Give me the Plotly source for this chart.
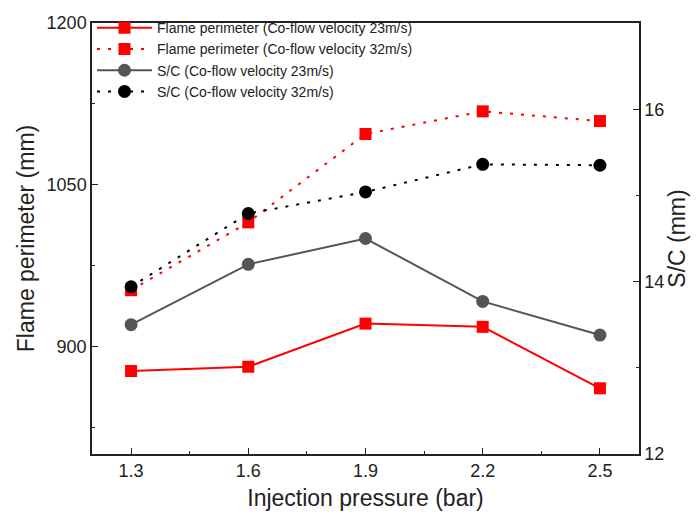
import plotly.graph_objects as go

pressure = [1.3, 1.6, 1.9, 2.2, 2.5]
perim_23 = [877, 881, 921, 918, 861]
perim_32 = [952, 1015, 1097, 1118, 1109]
sc_23 = [13.50, 14.20, 14.50, 13.77, 13.38]
sc_32 = [13.94, 14.79, 15.04, 15.36, 15.35]

names = [
    "Flame perimeter (Co-flow velocity 23m/s)",
    "Flame perimeter (Co-flow velocity 32m/s)",
    "S/C (Co-flow velocity 23m/s)",
    "S/C (Co-flow velocity 32m/s)",
]

RED = "#ff0000"
GRAY = "#555555"
BLACK = "#000000"
FONT = "Liberation Sans, Arial, sans-serif"

fig = go.Figure()
fig.add_trace(go.Scatter(x=pressure, y=perim_23, name=names[0], mode="lines+markers",
                         line=dict(color=RED, width=2), marker=dict(symbol="square", size=12, color=RED),
                         legendgroup="a", yaxis="y"))
fig.add_trace(go.Scatter(x=pressure, y=perim_32, name=names[1], mode="lines+markers",
                         line=dict(color=RED, width=2, dash="3px,8px"), marker=dict(symbol="square", size=12, color=RED),
                         legendgroup="a", yaxis="y"))
fig.add_trace(go.Scatter(x=pressure, y=sc_23, name=names[2], mode="lines+markers",
                         line=dict(color=GRAY, width=2), marker=dict(symbol="circle", size=13, color=GRAY),
                         legendgroup="b", yaxis="y2"))
fig.add_trace(go.Scatter(x=pressure, y=sc_32, name=names[3], mode="lines+markers",
                         line=dict(color=BLACK, width=2, dash="3px,8px"), marker=dict(symbol="circle", size=13, color=BLACK),
                         legendgroup="b", yaxis="y2"))

axis_common = dict(showline=True, linecolor="#222222", linewidth=1.5, showgrid=False, zeroline=False,
                   ticks="inside", ticklen=6, tickwidth=1.2, tickcolor="#222222",
                   tickfont=dict(family=FONT, size=18, color="#222222"))

fig.update_layout(
    width=699, height=524,
    margin=dict(l=92, r=60, t=14, b=70),
    paper_bgcolor="white", plot_bgcolor="white",
    font=dict(family=FONT, color="#222222"),
    xaxis=dict(range=[1.2, 2.6], tick0=1.3, dtick=0.3, mirror=True,
               minor=dict(ticks="inside", ticklen=3, dtick=0.15, tick0=1.3, tickcolor="#222222"),
               title=dict(text="Injection pressure (bar)", font=dict(size=23, family=FONT), standoff=10),
               **axis_common),
    yaxis=dict(range=[800, 1200], tick0=900, dtick=150, mirror=False,
               minor=dict(ticks="inside", ticklen=3, dtick=75, tick0=900, tickcolor="#222222"),
               title=dict(text="Flame perimeter (mm)", font=dict(size=23, family=FONT), standoff=6),
               **axis_common),
    yaxis2=dict(range=[12, 17], tick0=12, dtick=2, overlaying="y", side="right",
                minor=dict(ticks="inside", ticklen=3, dtick=1, tick0=12, tickcolor="#222222"),
                title=dict(text="S/C (mm)", font=dict(size=23, family=FONT), standoff=4),
                **axis_common),
    legend=dict(x=0.0, y=1.025, xanchor="left", yanchor="top", bgcolor="rgba(0,0,0,0)",
                font=dict(family=FONT, size=14, color="#222222"), itemwidth=55,
                tracegroupgap=0, traceorder="grouped"),
    showlegend=True,
)

fig.write_html("out.html")
